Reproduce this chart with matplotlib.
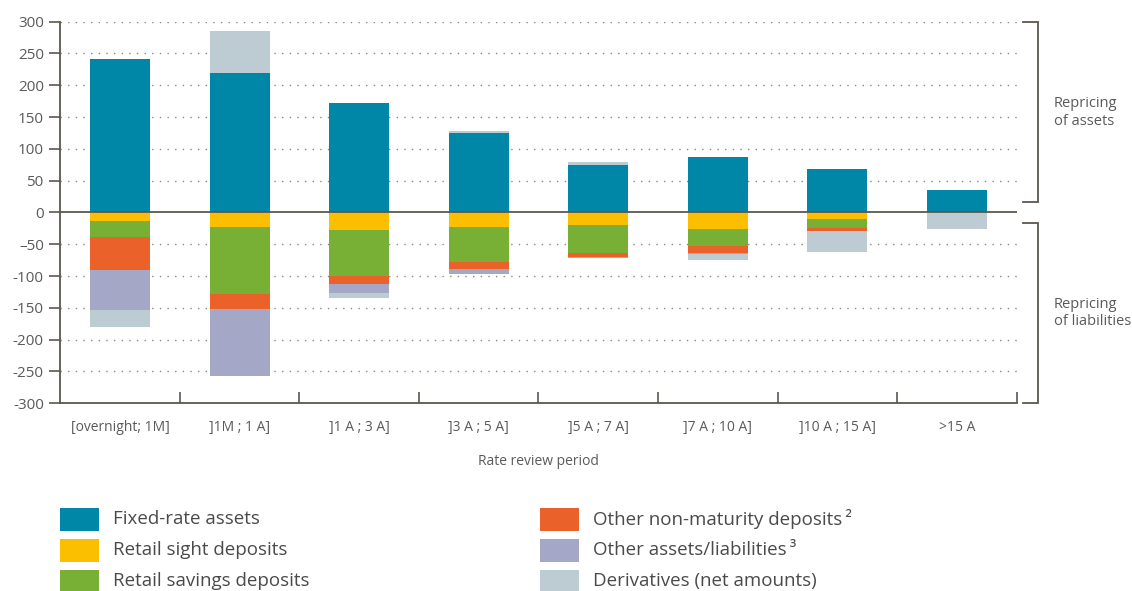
import matplotlib
matplotlib.use("Agg")
import matplotlib.pyplot as plt
from matplotlib.patches import Rectangle
import numpy as np

plt.rcParams["font.family"] = ["Open Sans", "DejaVu Sans"]

# --- data (EUR bn) ---
periods = ["[overnight; 1M]", "]1M ; 1 A]", "]1 A ; 3 A]", "]3 A ; 5 A]",
           "]5 A ; 7 A]", "]7 A ; 10 A]", "]10 A ; 15 A]", ">15 A"]
fixed_rate = [241, 219, 172, 125, 74, 87, 68, 35]
retail_sight = [-13, -23, -28, -23, -20, -26, -10, 0]
retail_savings = [-26, -105, -72, -55, -44, -27, -14, 0]
other_nmd = [-52, -24, -13, -11, -6, -11, -5, 0]
other_al = [-63, -105, -14, -8, -2, -2, 0, 0]
derivatives = [-26, 66, -8, 3, 6, -8, -33, -26]

series = [
    ("Fixed-rate assets", fixed_rate, "#0086a6"),
    ("Retail sight deposits", retail_sight, "#fbbf00"),
    ("Retail savings deposits", retail_savings, "#78b036"),
    ("Other non-maturity deposits\u2009\u00b2", other_nmd, "#eb612a"),
    ("Other assets/liabilities\u2009\u00b3", other_al, "#a4a8c6"),
    ("Derivatives (net amounts)", derivatives, "#bdcbd2"),
]
# legend order: two columns, three rows
legend_cols = [[0, 1, 2], [3, 4, 5]]

yticks = [-300, -250, -200, -150, -100, -50, 0, 50, 100, 150, 200, 250, 300]
ytick_labels = ["-300", "-250", "-200", "-150", "-100", "\u201350", "0",
                "50", "100", "150", "200", "250", "300"]

TXT = "#5a5a5a"
AXC = "#5b574e"

fig = plt.figure(figsize=(11.32, 5.91), dpi=100)
ax = fig.add_axes([0.0534, 0.3176, 0.8446, 0.6457])

x = np.arange(len(periods))
pos = np.zeros(len(periods))
neg = np.zeros(len(periods))
for name, vals, col in series:
    v = np.array(vals, dtype=float)
    bottom = np.where(v >= 0, pos, neg)
    ax.bar(x, v, width=0.5, bottom=bottom, color=col, linewidth=0, zorder=2)
    pos += np.where(v >= 0, v, 0)
    neg += np.where(v < 0, v, 0)

ax.set_xlim(-0.5, 7.5)
ax.set_ylim(-300, 300)

# dotted grid lines, solid zero line
for t in yticks:
    if t in (0, -300):
        continue
    ax.axhline(t, color="#8a8782", lw=1.0, ls=(0, (1, 4.5)), zorder=1)
ax.axhline(0, color=AXC, lw=1.3, zorder=3)

for s in ("top", "right"):
    ax.spines[s].set_visible(False)
for s in ("left", "bottom"):
    ax.spines[s].set_color(AXC)
    ax.spines[s].set_linewidth(1.3)

ax.set_yticks(yticks)
ax.set_yticklabels(ytick_labels, fontsize=11, color=TXT)
ax.tick_params(axis="y", direction="out", length=8, width=1.2, color=AXC, pad=4)

ax.set_xticks(x)
ax.set_xticklabels(periods, fontsize=10, color=TXT)
ax.tick_params(axis="x", which="major", length=0, pad=12)
ax.set_xticks(np.arange(0.5, 8, 1), minor=True)
ax.tick_params(axis="x", which="minor", direction="in", length=8, width=1.2, color=AXC)
ax.set_xlabel("Rate review period", fontsize=10, color=TXT, labelpad=14)

# brackets on the right
bx0, bx1 = 7.55, 7.68
for y0, y1 in [(300, 16), (-17, -300)]:
    ax.plot([bx0, bx1, bx1, bx0], [y0, y0, y1, y1], color=AXC, lw=1.3,
            clip_on=False, solid_joinstyle="miter")
ax.text(7.81, 157, "Repricing\nof assets", fontsize=10.5, color=TXT,
        va="center", ha="left", linespacing=1.25)
ax.text(7.81, -158, "Repricing\nof liabilities", fontsize=10.5, color=TXT,
        va="center", ha="left", linespacing=1.25)

# legend: swatches + labels in figure pixels
W, H = 1132, 591
col_x = [60, 540]
row_y = [519, 550, 581]
sw_w, sw_h = 39, 23
for ci, idxs in enumerate(legend_cols):
    for ri, si in enumerate(idxs):
        name, _, col = series[si]
        cx, cy = col_x[ci], row_y[ri]
        fig.add_artist(Rectangle((cx / W, 1 - (cy + sw_h / 2) / H), sw_w / W, sw_h / H,
                                 transform=fig.transFigure, color=col, lw=0))
        fig.text((cx + 53) / W, 1 - cy / H, name, fontsize=13.5, color="#4a4a4a",
                 va="center", ha="left")

fig.savefig("out.png", dpi=100)
